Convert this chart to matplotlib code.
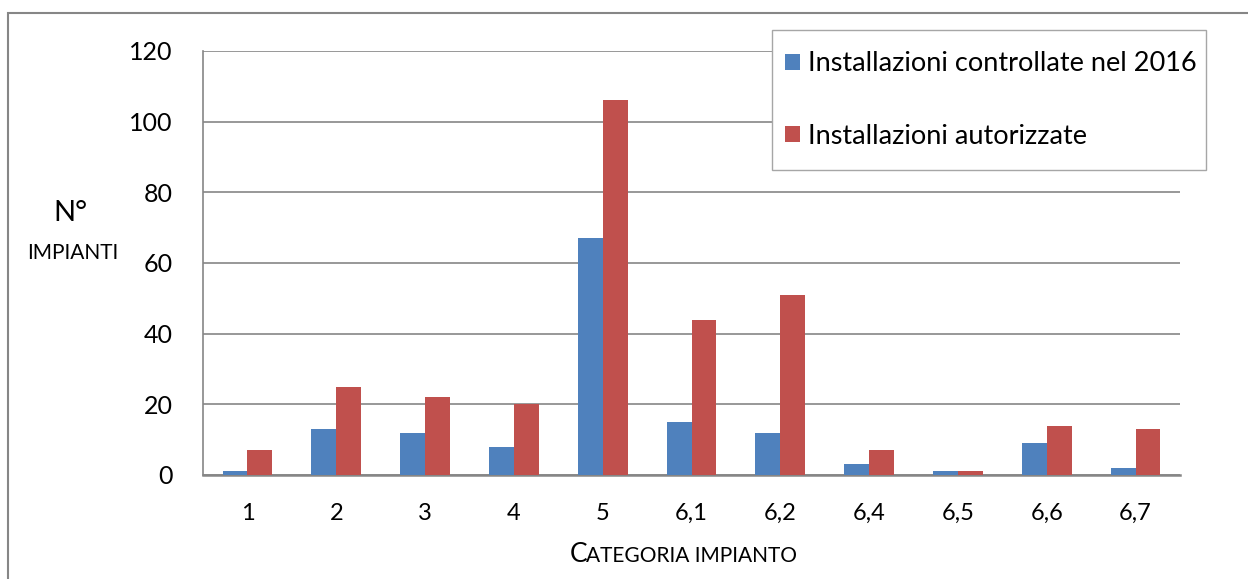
import matplotlib.pyplot as plt
from matplotlib.patches import Rectangle
import numpy as np

categories = ["1", "2", "3", "4", "5", "6,1", "6,2", "6,4", "6,5", "6,6", "6,7"]
controllate = [1, 13, 12, 8, 67, 15, 12, 3, 1, 9, 2]
autorizzate = [7, 25, 22, 20, 106, 44, 51, 7, 1, 14, 13]
series_names = ["Installazioni controllate nel 2016", "Installazioni autorizzate"]

plt.rcParams["font.family"] = ["Lato", "DejaVu Sans"]

fig = plt.figure(figsize=(12.48, 5.79), dpi=100)
ax = fig.add_axes([203 / 1248, 1 - 475 / 579, (1180 - 203) / 1248, (475 - 51) / 579])

x = np.arange(len(categories))
w = 0.28
ax.bar(x - w / 2, controllate, w, color="#4F81BD", label=series_names[0], zorder=3)
ax.bar(x + w / 2, autorizzate, w, color="#C0504D", label=series_names[1], zorder=3)

ax.set_xlim(-0.5, len(categories) - 0.5)
ax.set_ylim(0, 120)
ax.set_yticks(range(0, 121, 20))
ax.set_xticks(x)
ax.set_xticklabels(categories)
ax.tick_params(axis="y", length=0, labelsize=18, pad=22)
ax.tick_params(axis="x", length=0, labelsize=17, pad=20)
ax.grid(axis="y", color="#868686", linewidth=1.2, zorder=0)

for side in ["top", "right"]:
    ax.spines[side].set_visible(False)
ax.spines["left"].set_color("#868686")
ax.spines["bottom"].set_color("#868686")
ax.spines["bottom"].set_linewidth(1.8)
ax.spines["left"].set_linewidth(1.2)

# legend box drawn separately so its size matches the original
box = Rectangle((772 / 1248, 1 - 170 / 579), (1206 - 772) / 1248, 140 / 579,
                transform=fig.transFigure, facecolor="white",
                edgecolor="#a6a6a6", linewidth=1.0, zorder=4, clip_on=False)
ax.add_patch(box)

leg = ax.legend(loc="center left", bbox_to_anchor=(785 / 1248, 1 - 100 / 579),
                bbox_transform=fig.transFigure, fontsize=19.5, frameon=False,
                handlelength=0.55, handleheight=0.55, handletextpad=0.3,
                labelspacing=1.75, borderpad=0, borderaxespad=0)
leg.set_zorder(5)

# y label
fig.text(70 / 1248, 1 - 213 / 579, "N°", fontsize=21, ha="center", va="center")
fig.text(73 / 1248, 1 - 253 / 579, "IMPIANTI", fontsize=15, ha="center", va="center")

# x label in small caps
fig.text(570 / 1248, 1 - 562 / 579, "C", fontsize=19, ha="left", va="baseline")
fig.text(586 / 1248, 1 - 562 / 579, "ATEGORIA IMPIANTO", fontsize=15, ha="left", va="baseline")

# outer chart border
fig.patches.append(Rectangle((8 / 1248, -0.05), 1.1, 1 - 13 / 579 + 0.05,
                             transform=fig.transFigure, fill=False,
                             edgecolor="#868686", linewidth=1.5))

fig.savefig("out.png", dpi=100)
